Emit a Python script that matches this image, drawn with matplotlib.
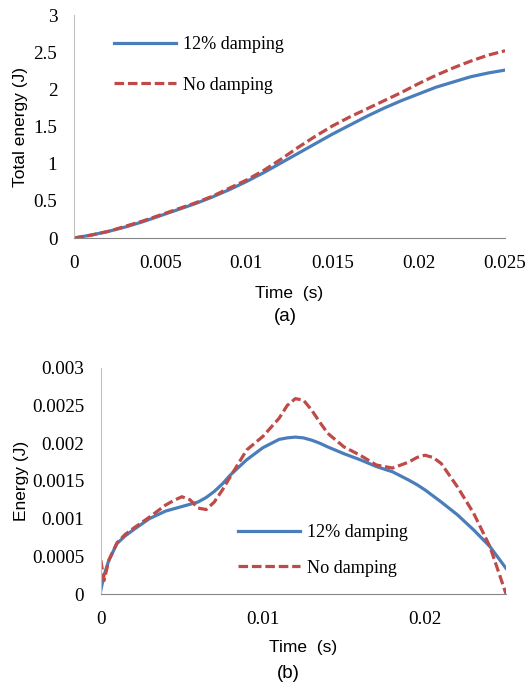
import matplotlib
matplotlib.use("Agg")
import matplotlib.pyplot as plt

# panel (a): total energy
t_a = [0, 0.001, 0.002, 0.003, 0.004, 0.005, 0.006, 0.007, 0.008, 0.009, 0.010,
       0.011, 0.012, 0.013, 0.014, 0.015, 0.016, 0.017, 0.018, 0.019, 0.020,
       0.021, 0.022, 0.023, 0.024, 0.025]
damped_a = [0, 0.04, 0.09, 0.15, 0.22, 0.30, 0.38, 0.46, 0.55, 0.65, 0.76,
            0.88, 1.01, 1.14, 1.27, 1.40, 1.52, 1.64, 1.75, 1.85, 1.94,
            2.03, 2.10, 2.17, 2.22, 2.26]
undamped_a = [0, 0.04, 0.09, 0.16, 0.23, 0.31, 0.39, 0.47, 0.56, 0.67, 0.78,
              0.91, 1.06, 1.22, 1.37, 1.51, 1.63, 1.74, 1.85, 1.96, 2.08,
              2.19, 2.29, 2.38, 2.46, 2.52]

# panel (b): energy
t_b = [0, 0.0002, 0.0005, 0.001, 0.0015, 0.002, 0.003, 0.004, 0.0045, 0.005,
       0.0055, 0.006, 0.0065, 0.007, 0.0075, 0.008, 0.009, 0.010, 0.011,
       0.0115, 0.012, 0.0125, 0.013, 0.0135, 0.014, 0.015, 0.016, 0.017,
       0.018, 0.019, 0.0195, 0.020, 0.0205, 0.021, 0.022, 0.023, 0.024,
       0.025]
damped_b = [0.00005, 0.00025, 0.00045, 0.00067, 0.00077, 0.00085, 0.00100,
            0.00110, 0.00113, 0.00116, 0.00119, 0.00122, 0.00128, 0.00136,
            0.00146, 0.00158, 0.00178, 0.00194, 0.00205, 0.00207, 0.00208,
            0.00207, 0.00204, 0.00200, 0.00195, 0.00186, 0.00178, 0.00169,
            0.00162, 0.00151, 0.00145, 0.00138, 0.00130, 0.00122, 0.00105,
            0.00085, 0.00063, 0.00034]
undamped_b = [0.00045, 0.00018, 0.00045, 0.00068, 0.00079, 0.00087, 0.00102,
              0.00118, 0.00124, 0.00129, 0.00125, 0.00114, 0.00112, 0.00122,
              0.00138, 0.00156, 0.00191, 0.00209, 0.00233, 0.00250, 0.00259,
              0.00257, 0.00244, 0.00228, 0.00213, 0.00195, 0.00184, 0.00171,
              0.00167, 0.00175, 0.00181, 0.00184, 0.00181, 0.00173, 0.00142,
              0.00107, 0.00063, 0.0]

blue = "#4A7EBB"
red = "#BE4B48"
serif = "Liberation Serif"
sans = "Liberation Sans"
dash = (0, (3, 1.2))

fig = plt.figure(figsize=(5.25, 6.86), dpi=100)
ax1 = fig.add_axes([0.141, 0.653, 0.821, 0.325])
ax2 = fig.add_axes([0.192, 0.134, 0.772, 0.330])


def style(ax):
    for s in ["top", "right"]:
        ax.spines[s].set_visible(False)
    ax.spines["left"].set_color("#BFBFBF")
    ax.spines["bottom"].set_color("#868686")
    ax.tick_params(length=0, labelsize=13.8, pad=12)
    for lbl in ax.get_xticklabels() + ax.get_yticklabels():
        lbl.set_fontfamily(serif)


ax1.plot(t_a, damped_a, color=blue, lw=2.3, label="12% damping")
ax1.plot(t_a, undamped_a, color=red, lw=2.3, ls=dash, label="No damping")
ax1.set_xlim(0, 0.025)
ax1.set_ylim(0, 3)
ax1.set_xticks([0, 0.005, 0.01, 0.015, 0.02, 0.025])
ax1.set_xticklabels(["0", "0.005", "0.01", "0.015", "0.02", "0.025"])
ax1.set_yticks([0, 0.5, 1, 1.5, 2, 2.5, 3])
ax1.set_yticklabels(["0", "0.5", "1", "1.5", "2", "2.5", "3"])
style(ax1)
ax1.set_xlabel("Time  (s)", fontfamily=sans, fontsize=12.5, labelpad=10)
ax1.set_ylabel("Total energy (J)", fontfamily=sans, fontsize=12.5, labelpad=4)
ax1.legend(loc="upper left", bbox_to_anchor=(0.054, 0.98), frameon=False,
           prop={"family": serif, "size": 13.1}, handlelength=3.4,
           labelspacing=1.3, handletextpad=0.4)

ax2.plot(t_b, damped_b, color=blue, lw=2.3, label="12% damping")
ax2.plot(t_b, undamped_b, color=red, lw=2.3, ls=dash, label="No damping")
ax2.set_xlim(0, 0.025)
ax2.set_ylim(0, 0.003)
ax2.set_xticks([0, 0.01, 0.02])
ax2.set_xticklabels(["0", "0.01", "0.02"])
ax2.set_yticks([0, 0.0005, 0.001, 0.0015, 0.002, 0.0025, 0.003])
ax2.set_yticklabels(["0", "0.0005", "0.001", "0.0015", "0.002", "0.0025", "0.003"])
style(ax2)
ax2.set_xlabel("Time  (s)", fontfamily=sans, fontsize=12.5, labelpad=9)
ax2.set_ylabel("Energy (J)", fontfamily=sans, fontsize=12.5, labelpad=2)
ax2.legend(loc="upper left", bbox_to_anchor=(0.298, 0.38), frameon=False,
           prop={"family": serif, "size": 13.1}, handlelength=3.4,
           labelspacing=1.0, handletextpad=0.4)

fig.text(0.543, 0.538, "(a)", fontfamily=sans, fontsize=13.5,
         ha="center", va="center")
fig.text(0.549, 0.0175, "(b)", fontfamily=sans, fontsize=13.5,
         ha="center", va="center")

fig.savefig("out.png", dpi=100)
